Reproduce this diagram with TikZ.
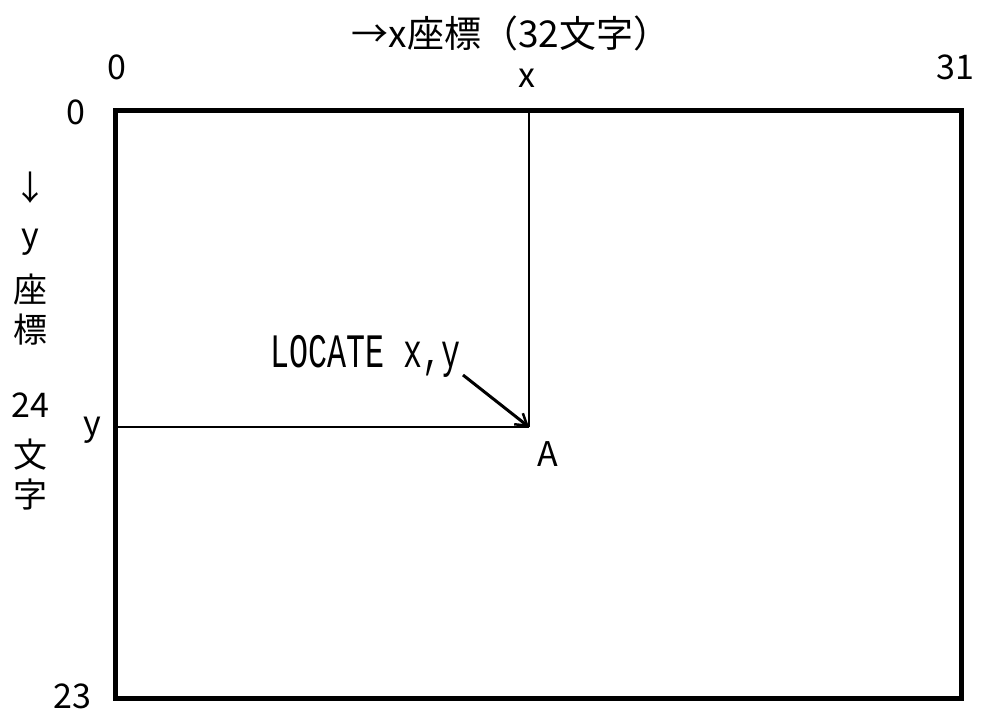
\documentclass[tikz,border=0pt]{standalone}
\usepackage{fontspec}
\setmainfont{Noto Sans CJK JP}
\newfontfamily\monofont{Liberation Mono}
\usetikzlibrary{arrows.meta}
\begin{document}
\begin{tikzpicture}[x=1pt,y=-1pt,
  lbl/.style={inner sep=0pt,font=\fontsize{34}{36}\selectfont},
  frame/.style={line width=5pt},
  guide/.style={line width=1.5pt},
  pointer/.style={line width=3pt,-{Straight Barb[length=11pt,width=14pt,line width=2.5pt]}}]
\useasboundingbox (0,0) rectangle (982,714);
\coordinate (TL) at (115,111);
\coordinate (BR) at (961,698);
\coordinate (P) at (529,427);
\coordinate (Ptop) at (529,111);
\coordinate (Pleft) at (115,427);
\draw[frame] (TL) rectangle (BR);
\draw[guide] (Ptop) -- (P);
\draw[guide] (Pleft) -- (P);
\node[lbl,font=\fontsize{37}{39}\selectfont] (title) at (511,33) {→x座標（32文字）};
\node[lbl] (x0) at (117,67) {0};
\node[lbl] (xx) at (527,78) {x};
\node[lbl] (x31) at (955,67) {31};
\node[lbl] (y0) at (76,112) {0};
\node[lbl] (arr) at (30,188) {↓};
\node[lbl] (ly) at (30,242) {y};
\node[lbl] (l1) at (30,290) {座};
\node[lbl] (l2) at (30,330) {標};
\node[lbl] (l24) at (30,405) {24};
\node[lbl] (l3) at (30,455) {文};
\node[lbl] (l4) at (30,495) {字};
\node[lbl] (yy) at (92,430) {y};
\node[lbl] (y23) at (72,696) {23};
\node[lbl] (A) at (548,454) {A};
\node[inner sep=0pt,font=\monofont\fontsize{48}{50}\selectfont,xscale=0.66,anchor=west] (loc) at (270,356) {LOCATE x,y};
\coordinate (S) at (463,375);
\draw[pointer] (S) -- (P);
\end{tikzpicture}
\end{document}
